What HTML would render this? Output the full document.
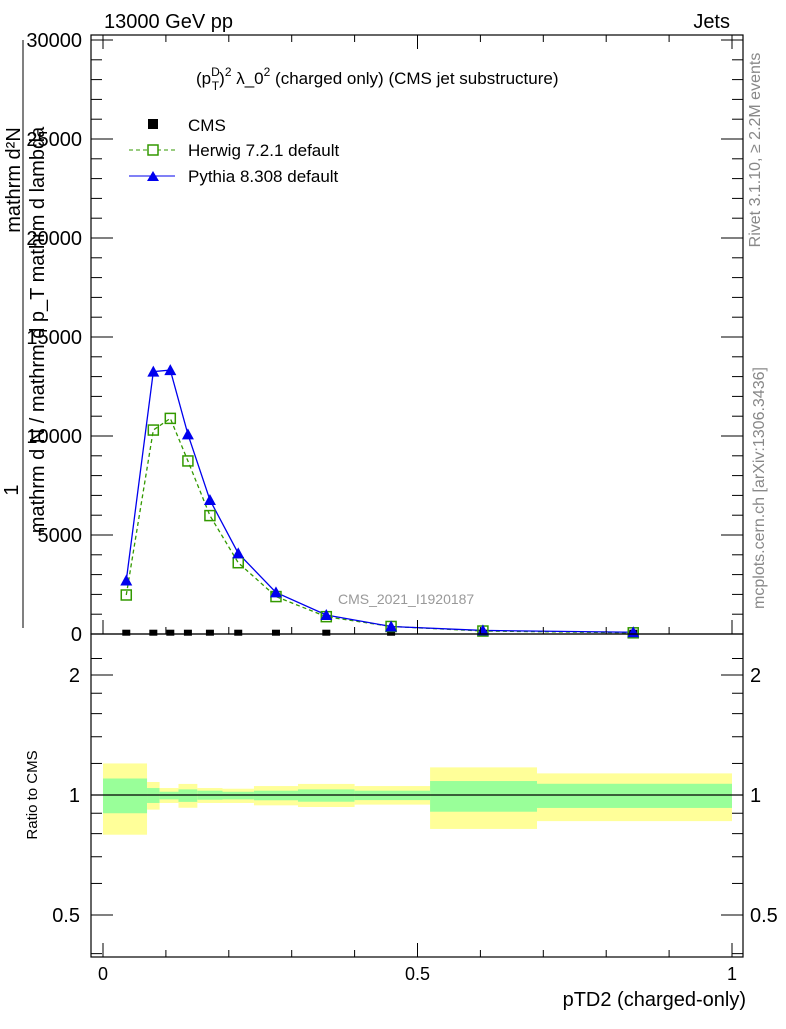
<!DOCTYPE html>
<html><head><meta charset="utf-8"><style>
body{margin:0;background:#fff}
svg{font-family:"Liberation Sans",sans-serif}
</style></head><body>
<svg id="c" width="786" height="1024" viewBox="0 0 786 1024" xmlns="http://www.w3.org/2000/svg">
<rect width="786" height="1024" fill="#fff"/>
<g id="bands"></g>
<g id="marks"></g>
<g id="axes" stroke="#000" fill="none"></g>
<text x="104" y="28" font-size="20">13000 GeV pp</text>
<text x="730" y="28" font-size="20" text-anchor="end">Jets</text>
<text x="196" y="84" font-size="17">(p<tspan font-size="12" dy="-8">D</tspan><tspan font-size="12" dx="-8" dy="14">T</tspan><tspan dy="-6">)</tspan><tspan font-size="12" dy="-8">2</tspan><tspan dy="8"> λ_0</tspan><tspan font-size="12" dy="-8">2</tspan><tspan dy="8"> (charged only) (CMS jet substructure)</tspan></text>
<g>
<rect x="148" y="119" width="10" height="10" fill="#000"/>
<text x="188" y="131" font-size="17">CMS</text>
<line x1="129" y1="150" x2="175" y2="150" stroke="#339900" stroke-dasharray="4,3"/>
<rect x="148" y="145" width="10" height="10" fill="#fff" stroke="#339900" stroke-width="1.5"/>
<text x="188" y="156" font-size="17">Herwig 7.2.1 default</text>
<line x1="129" y1="176" x2="175" y2="176" stroke="#0000ee"/>
<path d="M147 181 L153 171 L159 181 Z" fill="#0000ee"/>
<text x="188" y="182" font-size="17">Pythia 8.308 default</text>
</g>
<text x="338" y="604" font-size="14" fill="#999">CMS_2021_I1920187</text>
<text transform="translate(760,150) rotate(-90)" font-size="16" fill="#888" text-anchor="middle">Rivet 3.1.10, ≥ 2.2M events</text>
<text transform="translate(764,488) rotate(-90)" font-size="16" fill="#888" text-anchor="middle">mcplots.cern.ch [arXiv:1306.3436]</text>
<g font-size="20">
<text transform="translate(44,330) rotate(-90)" text-anchor="middle">mathrm d N / mathrm d p_T mathrm d lambda</text>
<text transform="translate(20,180) rotate(-90)" text-anchor="middle">mathrm d²N</text>
<text transform="translate(18,490) rotate(-90)" text-anchor="middle">1</text>
<line x1="23" y1="628" x2="23" y2="40" stroke="#000"/>
</g>
<text transform="translate(37,795) rotate(-90)" font-size="15" text-anchor="middle">Ratio to CMS</text>
<text x="746" y="1006" font-size="20" text-anchor="end">pTD2 (charged-only)</text>
<g id="labels"></g>
</svg>
<script>
const edges=[0,0.07,0.09,0.12,0.15,0.19,0.24,0.31,0.40,0.52,0.69,1.0];
const xs=[0.037,0.08,0.107,0.135,0.17,0.215,0.275,0.355,0.458,0.604,0.843];
const cms=[15,15,15,15,15,15,15,15,15,15,15];
const herwig=[1970,10300,10890,8740,5980,3600,1890,875,380,150,60];
const pythia=[2700,13250,13330,10085,6770,4075,2100,960,380,180,90];
const yelUp=[1.20,1.078,1.041,1.066,1.041,1.037,1.053,1.066,1.053,1.173,1.133];
const yelDn=[0.795,0.919,0.955,0.929,0.955,0.955,0.942,0.933,0.946,0.822,0.86];
const grnUp=[1.10,1.041,1.019,1.033,1.025,1.019,1.025,1.033,1.025,1.084,1.067];
const grnDn=[0.90,0.955,0.975,0.961,0.973,0.975,0.97,0.962,0.971,0.908,0.928];
const yTicks=[0,5000,10000,15000,20000,25000,30000];
const rTicks=[0.5,1,2];
const xTicks=[0,0.5,1];
const NS="http://www.w3.org/2000/svg";
const L=91,R=743,T=35,B=634,RB=957;
const X=v=>103+629*v;
const Y=v=>634-v*99/5000;
const RY=r=>795-120*Math.log2(r);
function mk(tag,attrs,parent){const e=document.createElementNS(NS,tag);for(const k in attrs)e.setAttribute(k,attrs[k]);parent.appendChild(e);return e;}
const bands=document.getElementById('bands'),marks=document.getElementById('marks'),axes=document.getElementById('axes'),labels=document.getElementById('labels');
for(let i=0;i<xs.length;i++){
 const x0=X(edges[i]),x1=X(edges[i+1]);
 const yb=mk('rect',{x:x0,y:RY(yelUp[i]),width:x1-x0,height:RY(yelDn[i])-RY(yelUp[i]),fill:'#ffff99'},bands);
 
 
 const gb=mk('rect',{x:x0,y:RY(grnUp[i]),width:x1-x0,height:RY(grnDn[i])-RY(grnUp[i]),fill:'#99ff99'},bands);
 
 
}
const one=mk('line',{x1:L,x2:R,y1:RY(1),y2:RY(1),stroke:'#000','stroke-width':1.2},bands);


const hl=mk('polyline',{points:xs.map((x,i)=>X(x)+','+Y(herwig[i])).join(' '),fill:'none',stroke:'#339900','stroke-width':1.3,'stroke-dasharray':'4,3'},marks);


const pl=mk('polyline',{points:xs.map((x,i)=>X(x)+','+Y(pythia[i])).join(' '),fill:'none',stroke:'#0000ee','stroke-width':1.3},marks);


xs.forEach((x,i)=>{
 const c=mk('rect',{x:X(x)-4,y:Y(cms[i])-4,width:8,height:6,fill:'#000'},marks);
 
 
 const h=mk('rect',{x:X(x)-5,y:Y(herwig[i])-5,width:10,height:10,fill:'none',stroke:'#339900','stroke-width':1.5},marks);
 
 
 const px=X(x),py=Y(pythia[i]);
 const p=mk('path',{d:`M${px-6} ${py+5} L${px} ${py-6} L${px+6} ${py+5} Z`,fill:'#0000ee'},marks);
 
 
});
mk('rect',{x:L,y:T,width:R-L,height:B-T,'stroke-width':1.2},axes);
mk('rect',{x:L,y:B,width:R-L,height:RB-B,'stroke-width':1.2},axes);
for(let v=0;v<=1.0001;v+=0.1){const maj=xTicks.some(t=>Math.abs(t-v)<1e-6);const len=maj?14:7;
 [B,RB].forEach(b=>{mk('line',{x1:X(v),x2:X(v),y1:b,y2:b-len},axes);});
 mk('line',{x1:X(v),x2:X(v),y1:T,y2:T+len},axes);}
xTicks.forEach(t=>{const tx=mk('text',{x:X(t),y:980,'font-size':18,'text-anchor':'middle'},labels);tx.textContent=String(t);
 
 });
for(let v=0;v<=30000;v+=1000){const maj=v%5000===0;const len=maj?22:11;
 mk('line',{x1:L,x2:L+len,y1:Y(v),y2:Y(v)},axes);mk('line',{x1:R,x2:R-len,y1:Y(v),y2:Y(v)},axes);}
yTicks.forEach(t=>{const tx=mk('text',{x:82,y:Y(t)+7,'font-size':20,'text-anchor':'end'},labels);tx.textContent=String(t);
 
 });
[0.4,0.5,0.6,0.7,0.8,0.9,1,2].forEach(r=>{const maj=rTicks.includes(r);const len=maj?22:11;
 mk('line',{x1:L,x2:L+len,y1:RY(r),y2:RY(r)},axes);mk('line',{x1:R,x2:R-len,y1:RY(r),y2:RY(r)},axes);});
[1.2,1.4,1.6,1.8,2.2].forEach(r=>{mk('line',{x1:L,x2:L+11,y1:RY(r),y2:RY(r)},axes);mk('line',{x1:R,x2:R-11,y1:RY(r),y2:RY(r)},axes);});
rTicks.forEach(t=>{const a=mk('text',{x:80,y:RY(t)+7,'font-size':20,'text-anchor':'end'},labels);a.textContent=String(t);
 
 
 const b=mk('text',{x:750,y:RY(t)+7,'font-size':20},labels);b.textContent=String(t);
 
 });
</script>
</body></html>
